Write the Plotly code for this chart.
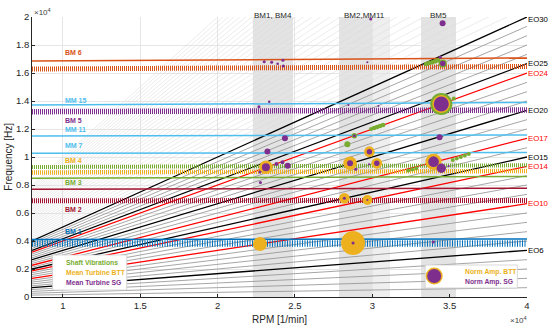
import plotly.graph_objects as go

# ---------------- data ----------------
RPM_MIN, RPM_MAX = 8000, 40000
F_MAX = 20000

eo_orders_main = list(range(1, 31))
eo_orders_hatch = list(range(31, 61))
eo_black = [5, 15, 20, 25, 30]
eo_red = [10, 14, 17, 24]
eo_label_orders = [30, 25, 24, 20, 17, 15, 14, 10, 5]
eo_label_texts = ['EO30', 'EO25', 'EO24', 'EO20', 'EO17', 'EO15', 'EO14', 'EO10', 'EO6']

# operating-speed windows (rpm)
win_labels = ['BM1, BM4', 'BM2,MM11', 'BM5']
win_lo = [22280, 27850, 33150]
win_hi = [24870, 31150, 35410]
win_inner_hi = [24870, 29985, 35410]

# mode lines: solid (simulated) lines, frequency at RPM_MIN and RPM_MAX
solid_names = ['BM 6', 'MM 15', 'MM 11', 'MM 7', 'BM 3', 'BM 2', 'BM 1']
solid_f0 = [16857, 13714, 11500, 10264, 8479, 7693, 4107]
solid_f1 = [17071, 13893, 11571, 10321, 8607, 7764, 4143]
# measured bands
band_names = ['BM 6', 'BM 5', 'BM 4 (shaft)', 'BM 4 (BTT)', 'BM 2', 'BM 1']
band_f0 = [16286, 13236, 9286, 8893, 6879, 3821]
band_f1 = [16464, 13357, 9407, 9000, 6893, 3821]

# mode labels
label_texts = ['BM 6', 'MM 15', 'BM 5', 'MM 11', 'MM 7', 'BM 4', 'BM 3', 'BM 2', 'BM 1']
label_freqs = [17450, 14071, 12643, 11929, 10836, 9786, 8164, 6286, 4664]

# Mean Turbine SG (purple) : rpm, freq, normalised amplitude
sg_rpm = [23123, 23220, 24353, 23803, 24191, 24528, 22767, 22735, 23013, 23492, 23880,
          24223, 24243, 23336, 22670, 29901, 29681, 28451, 30393, 28839, 29810, 28561,
          30290, 29791, 28930, 28192, 29681, 34544, 34394, 34555, 34458, 34348, 33960,
          34458, 34930, 28755, 33940]
sg_f = [9264, 10393, 11336, 9500, 9621, 9379, 8179, 8929, 16807, 16764, 16664,
        16907, 16500, 13950, 13593, 19857, 16764, 13714, 13643, 11521, 10379, 9550,
        9550, 9479, 9121, 7050, 6929, 19550, 17121, 16679, 13786, 11407, 9664,
        9193, 9357, 3857, 3929]
sg_amp = [0.31, 0.23, 0.23, 0.15, 0.15, 0.23, 0.12, 0.12, 0.12, 0.12, 0.10,
          0.12, 0.12, 0.10, 0.12, 0.12, 0.08, 0.08, 0.08, 0.12, 0.21, 0.23,
          0.21, 0.08, 0.12, 0.12, 0.08, 0.23, 0.12, 0.21, 0.58, 0.23, 0.41,
          0.36, 0.08, 0.12, 0.12]

# Mean Turbine BTT (orange)
btt_rpm = [23123, 29810, 28561, 30290, 33960, 28192, 29681, 34458, 22735, 28755]
btt_f = [9264, 10379, 9550, 9550, 9664, 7050, 6929, 13786, 3786, 3857]
btt_amp = [0.52, 0.41, 0.52, 0.41, 0.62, 0.41, 0.38, 0.69, 0.54, 0.92]

# Shaft vibrations (green)
sv_rpm = [34458, 35267, 34555, 33481, 33675, 33870, 34064, 34258,
          29920, 30114, 30308, 30502, 30697, 28839, 28386,
          35202, 35461, 35720, 35979, 36238, 32323, 32582, 32841]
sv_f = [13786, 14179, 16679, 16643, 16714, 16764, 16836, 16907,
        12000, 12071, 12143, 12214, 12286, 11521, 10907,
        9786, 9893, 10000, 10107, 10214, 9036, 9107, 9179]
sv_amp = [0.85, 0.15, 0.31, 0.18, 0.18, 0.18, 0.18, 0.18,
          0.16, 0.17, 0.18, 0.18, 0.18, 0.21, 0.23,
          0.15, 0.15, 0.16, 0.16, 0.15, 0.15, 0.15, 0.15]

x_ticks = [10000, 15000, 20000, 25000, 30000, 35000, 40000]
x_ticktext = ['1', '1.5', '2', '2.5', '3', '3.5', '4']
y_ticks = [0, 2000, 4000, 6000, 8000, 10000, 12000, 14000, 16000, 18000, 20000]
y_ticktext = ['0', '0.2', '0.4', '0.6', '0.8', '1', '1.2', '1.4', '1.6', '1.8', '2']

# ---------------- styles ----------------
C_GREEN = '#77AC30'
C_ORANGE = '#EDB120'
C_PURPLE = '#7E2F8E'
C_RED_OR = '#D95319'
C_LBLUE = '#4DBEEE'
C_DBLUE = '#0072BD'
C_DRED = '#A2142F'
SIZE_SCALE = 26
FONT = 'Liberation Sans, Arial, sans-serif'

solid_colors = [C_RED_OR, C_LBLUE, C_LBLUE, C_LBLUE, C_GREEN, C_DRED, C_DBLUE]
band_colors = [C_RED_OR, C_PURPLE, C_GREEN, C_ORANGE, C_DRED, C_DBLUE]
band_widths = [5, 5.5, 4, 4.5, 5, 6.5]
band_dashes = ['1px,1px', '1px,1px', '1px,1px', '1px,1px', '1px,1px', '1px,1.5px']
label_colors = [C_RED_OR, C_LBLUE, C_PURPLE, C_LBLUE, C_LBLUE, C_ORANGE, C_GREEN, C_DRED, C_DBLUE]

fig = go.Figure()


def eo_trace(orders, color, width):
    xs, ys = [], []
    for eo in orders:
        xs += [RPM_MIN, RPM_MAX, None]
        ys += [eo * RPM_MIN / 60.0, eo * RPM_MAX / 60.0, None]
    return go.Scatter(x=xs, y=ys, mode='lines', line=dict(color=color, width=width),
                      hoverinfo='skip', showlegend=False)


# shaded speed windows
for lo, hi, ihi in zip(win_lo, win_hi, win_inner_hi):
    fig.add_shape(type='rect', xref='x', yref='y', x0=lo, x1=hi, y0=0, y1=F_MAX,
                  fillcolor='#efefef', line_width=0, layer='below')
    fig.add_shape(type='rect', xref='x', yref='y', x0=lo, x1=ihi, y0=0, y1=F_MAX,
                  fillcolor='#e3e3e3', line_width=0, layer='below')

# engine-order lines
fig.add_trace(eo_trace(eo_orders_hatch, '#d8d8d8', 0.5))
fig.add_trace(eo_trace([e for e in eo_orders_main if e not in eo_black + eo_red], '#8f8f8f', 0.8))
fig.add_trace(eo_trace(eo_red, '#FF0000', 1.3))
fig.add_trace(eo_trace(eo_black, '#000000', 1.3))

# mode bands (measured)
for f0, f1, c, w, d in zip(band_f0, band_f1, band_colors, band_widths, band_dashes):
    fig.add_trace(go.Scatter(x=[RPM_MIN, RPM_MAX], y=[f0, f1], mode='lines',
                             line=dict(color=c, width=w, dash=d),
                             hoverinfo='skip', showlegend=False))
# mode lines (solid)
for f0, f1, c in zip(solid_f0, solid_f1, solid_colors):
    fig.add_trace(go.Scatter(x=[RPM_MIN, RPM_MAX], y=[f0, f1], mode='lines',
                             line=dict(color=c, width=1.5),
                             hoverinfo='skip', showlegend=False))

# measured points
for xs, ys, amps, c in [(sv_rpm, sv_f, sv_amp, C_GREEN),
                        (btt_rpm, btt_f, btt_amp, C_ORANGE),
                        (sg_rpm, sg_f, sg_amp, C_PURPLE)]:
    fig.add_trace(go.Scatter(x=xs, y=ys, mode='markers',
                             marker=dict(color=c, size=[a * SIZE_SCALE for a in amps],
                                         line=dict(width=0), opacity=1),
                             hoverinfo='skip', showlegend=False, cliponaxis=True))

annotations = []
# mode labels
for t, f, c in zip(label_texts, label_freqs, label_colors):
    annotations.append(dict(x=10000, y=f, xref='x', yref='y', text='<b>%s</b>' % t,
                            showarrow=False, xanchor='left', yanchor='middle',
                            font=dict(family=FONT, size=7, color=c)))
# EO labels
for eo, t in zip(eo_label_orders, eo_label_texts):
    c = '#FF0000' if eo in eo_red else '#000000'
    annotations.append(dict(x=RPM_MAX, y=min(eo * RPM_MAX / 60.0, 19857), xref='x', yref='y',
                            text=t, showarrow=False, xanchor='left', yanchor='middle', xshift=-1,
                            font=dict(family=FONT, size=7.8, color=c)))
# window labels
for t, lo, hi in zip(win_labels, win_lo, win_hi):
    annotations.append(dict(x=(lo + hi) / 2, y=1.007, xref='x', yref='paper', text=t,
                            showarrow=False, xanchor='center', yanchor='middle',
                            font=dict(family=FONT, size=8, color='#262626')))
# axis titles
annotations.append(dict(x=0.5, y=-0.079, xref='paper', yref='paper', text='RPM [1/min]',
                        showarrow=False, xanchor='center', yanchor='middle',
                        font=dict(family=FONT, size=10, color='#262626')))
annotations.append(dict(x=-0.049, y=0.5, xref='paper', yref='paper', text='Frequency [Hz]',
                        showarrow=False, xanchor='center', yanchor='middle', textangle=-90,
                        font=dict(family=FONT, size=10, color='#262626')))
annotations.append(dict(x=0.0, y=1.017, xref='paper', yref='paper', text='\u00d710<sup>4</sup>',
                        showarrow=False, xanchor='left', yanchor='middle',
                        font=dict(family=FONT, size=8, color='#404040')))
annotations.append(dict(x=0.961, y=-0.083, xref='paper', yref='paper', text='\u00d710<sup>4</sup>',
                        showarrow=False, xanchor='left', yanchor='middle',
                        font=dict(family=FONT, size=8, color='#404040')))

# legend boxes
fig.add_shape(type='rect', xref='x', yref='y', x0=9333, x1=14124, y0=500, y1=3000,
              fillcolor='white', line=dict(color='#cfcfcf', width=0.8), layer='above')
fig.add_shape(type='rect', xref='x', yref='y', x0=33418, x1=39374, y0=643, y1=2286,
              fillcolor='white', line=dict(color='#cfcfcf', width=0.8), layer='above')
for r, c in [(8.5, C_ORANGE), (7, C_PURPLE)]:
    fig.add_shape(type='circle', xref='x', yref='y', xsizemode='pixel', ysizemode='pixel',
                  xanchor=34000, yanchor=1500, x0=-r, x1=r, y0=-r, y1=r,
                  fillcolor=c, line_width=0, layer='above')
for t, f, c in [('Shaft Vibrations', 2450, C_GREEN), ('Mean Turbine BTT', 1736, C_ORANGE),
                ('Mean Turbine SG', 1050, C_PURPLE)]:
    annotations.append(dict(x=10045, y=f, xref='x', yref='y', text='<b>%s</b>' % t,
                            showarrow=False, xanchor='left', yanchor='middle',
                            font=dict(family=FONT, size=6.8, color=c)))
for t, f, c in [('Norm Amp. BTT', 1786, C_ORANGE), ('Norm Amp. SG', 1071, C_PURPLE)]:
    annotations.append(dict(x=35877, y=f, xref='x', yref='y', text='<b>%s</b>' % t,
                            showarrow=False, xanchor='left', yanchor='middle',
                            font=dict(family=FONT, size=6.8, color=c)))

fig.update_layout(
    width=550, height=331,
    margin=dict(l=32, r=23, t=17, b=34),
    paper_bgcolor='white', plot_bgcolor='white',
    showlegend=False,
    annotations=annotations,
    xaxis=dict(range=[RPM_MIN, RPM_MAX], tickvals=x_ticks, ticktext=x_ticktext,
               showgrid=True, gridcolor='#e6e6e6', gridwidth=0.6,
               showline=True, linecolor='#262626', linewidth=0.8,
               ticks='inside', ticklen=3, tickcolor='#262626', zeroline=False,
               tickfont=dict(family=FONT, size=9.5, color='#262626')),
    yaxis=dict(range=[0, F_MAX], tickvals=y_ticks, ticktext=y_ticktext,
               showgrid=True, gridcolor='#e6e6e6', gridwidth=0.6,
               showline=True, linecolor='#262626', linewidth=0.8,
               ticks='inside', ticklen=3, tickcolor='#262626', zeroline=False,
               tickfont=dict(family=FONT, size=9.5, color='#262626')),
)

fig.write_html('out.html', config={'displayModeBar': False},
               post_script="document.body.style.margin='0px';")
